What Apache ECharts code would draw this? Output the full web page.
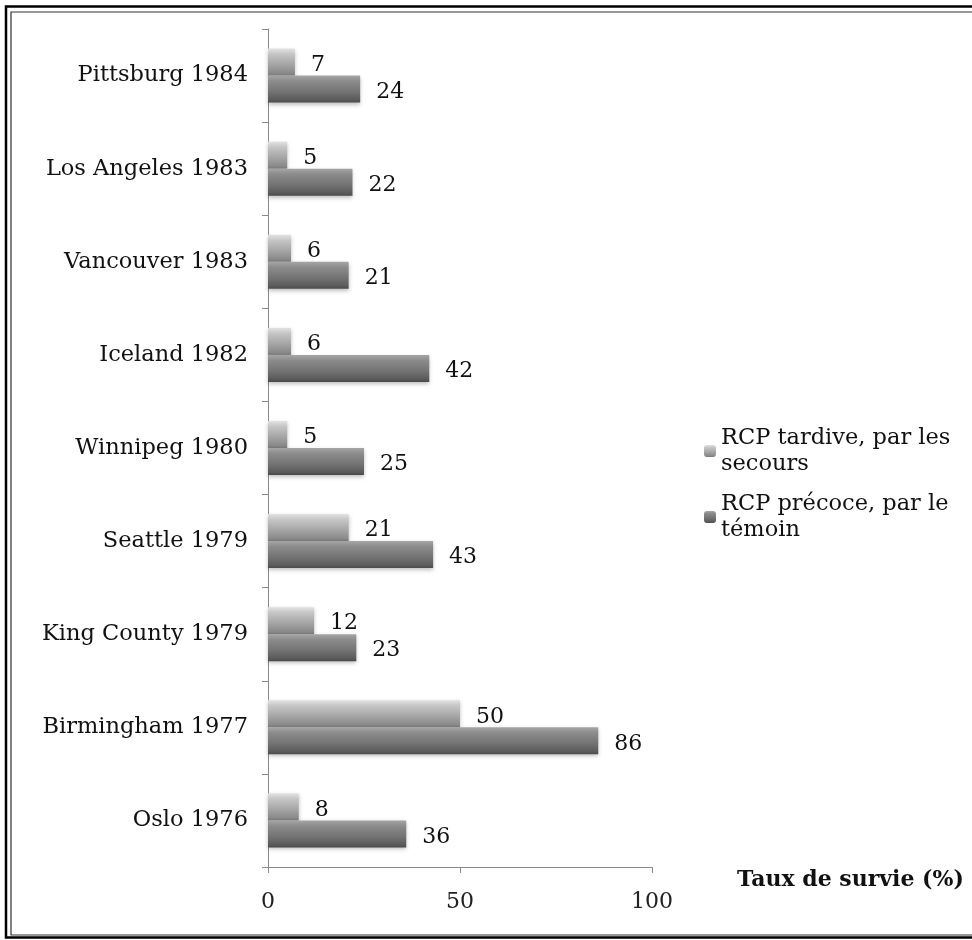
<!DOCTYPE html>
<html>
<head>
<meta charset="utf-8">
<script src="https://cdn.jsdelivr.net/npm/echarts@6/dist/echarts.min.js"></script>
<style>
html,body{margin:0;padding:0;background:#fff;}
#chart{width:972px;height:940px;}
</style>
</head>
<body>
<div id="chart"></div>
<script>
const categories = ['Oslo 1976','Birmingham 1977','King County 1979','Seattle 1979','Winnipeg 1980','Iceland 1982','Vancouver 1983','Los Angeles 1983','Pittsburg 1984'];
const seriesNames = ['RCP tardive, par les secours','RCP précoce, par le témoin'];
const tardive = [8, 50, 12, 21, 5, 6, 6, 5, 7];
const precoce = [36, 86, 23, 43, 25, 42, 21, 22, 24];
const xTicks = [0, 50, 100];
const axisTitle = 'Taux de survie (%)';

const FONT = 'DejaVu Serif';
const lightGrad = new echarts.graphic.LinearGradient(0,0,0,1,[
  {offset:0,color:'#e2e2e2'},{offset:0.2,color:'#c6c6c6'},{offset:0.6,color:'#a4a4a4'},{offset:0.9,color:'#8a8a8a'},{offset:1,color:'#7a7a7a'}]);
const darkGrad = new echarts.graphic.LinearGradient(0,0,0,1,[
  {offset:0,color:'#a6a6a6'},{offset:0.2,color:'#8c8c8c'},{offset:0.6,color:'#737373'},{offset:0.9,color:'#5a5a5a'},{offset:1,color:'#4a4a4a'}]);

const legendText = {
  fontFamily: FONT, fontSize: 22.5, color: '#111', lineHeight: 26, padding: [26,0,0,0]
};
const chart = echarts.init(document.getElementById('chart'));
chart.setOption({
  backgroundColor: '#fff',
  animation: false,
  graphic: [
    {type:'rect', shape:{x:6, y:6.5, width:1000, height:931}, style:{fill:'none', stroke:'#000', lineWidth:2.5}},
    {type:'rect', shape:{x:11, y:12, width:1000, height:923}, style:{fill:'none', stroke:'#333', lineWidth:1.2}}
  ],
  grid: {left: 268, right: 320, top: 29, bottom: 73, containLabel: false},
  legend: [
    {data:[seriesNames[0]], orient:'vertical', left:699, top:407, itemWidth:12, itemHeight:12,
     formatter: () => 'RCP tardive, par les\nsecours', textStyle: legendText},
    {data:[seriesNames[1]], orient:'vertical', left:699, top:473, itemWidth:12, itemHeight:12,
     formatter: () => 'RCP précoce, par le\ntémoin', textStyle: legendText}
  ],
  xAxis: {
    type:'value', min: xTicks[0], max: xTicks[xTicks.length-1], interval: 50,
    name: axisTitle, nameLocation:'end', nameGap: 85,
    nameTextStyle: {fontFamily: FONT, fontWeight:'bold', fontSize: 22, color:'#111', align:'left', verticalAlign:'top', padding:[2,0,0,0]},
    axisLine: {show:true, lineStyle:{color:'#8a8a8a', width:1}},
    axisTick: {show:true, length:6, lineStyle:{color:'#8a8a8a'}},
    axisLabel: {fontFamily: FONT, fontSize: 22, color:'#222', margin: 24},
    splitLine: {show:false}
  },
  yAxis: {
    type:'category', data: categories,
    axisLine: {show:true, lineStyle:{color:'#8a8a8a', width:1}},
    axisTick: {show:true, length:6, lineStyle:{color:'#8a8a8a'}},
    axisLabel: {fontFamily: FONT, fontSize: 22.5, color:'#111', margin: 20}
  },
  series: [
    {name: seriesNames[0], type:'bar', data: tardive, barWidth: 27, barGap: '0%',
     itemStyle: {color: lightGrad, shadowColor:'rgba(0,0,0,0.25)', shadowBlur:4, shadowOffsetY:2},
     label: {show:true, position:'right', distance:16, offset:[0,3], fontFamily: FONT, fontSize: 22, color:'#111'}},
    {name: seriesNames[1], type:'bar', data: precoce, barWidth: 27, barGap: '0%',
     itemStyle: {color: darkGrad, shadowColor:'rgba(0,0,0,0.25)', shadowBlur:4, shadowOffsetY:2},
     label: {show:true, position:'right', distance:16, offset:[0,3], fontFamily: FONT, fontSize: 22, color:'#111'}}
  ]
});
</script>
</body>
</html>
